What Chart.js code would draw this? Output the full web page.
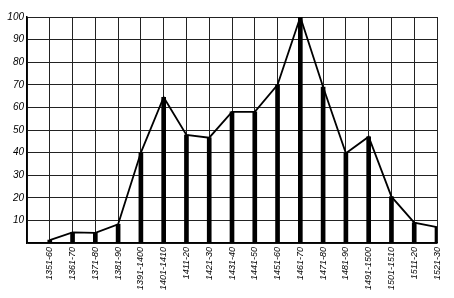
<!DOCTYPE html>
<html>
<head>
<meta charset="utf-8">
<script src="https://cdn.jsdelivr.net/npm/chart.js@4"></script>
<style>
  body { margin: 0; background: #fff; }
</style>
</head>
<body>
<canvas id="chart" width="454" height="298"></canvas>
<script>
const periods = ['1351-60', '1361-70', '1371-80', '1381-90', '1391-1400', '1401-1410',
    '1411-20', '1421-30', '1431-40', '1441-50', '1451-60', '1461-70', '1471-80',
    '1481-90', '1491-1500', '1501-1510', '1511-20', '1521-30'];
const values = [1.3, 4.7, 4.5, 8.3, 40, 64.5, 47.8, 46.6, 58, 58, 70, 100, 69, 39.7, 47, 20.5, 9, 7];
const yTicks = [10, 20, 30, 40, 50, 60, 70, 80, 90, 100];

// blank first slot so the first period sits one grid step in from the axis
const labels = [''].concat(periods);
const series = [null].concat(values);

const ctx = document.getElementById('chart').getContext('2d');
new Chart(ctx, {
    data: {
        labels: labels,
        datasets: [{
            type: 'line',
            data: series,
            borderColor: '#000',
            borderWidth: 1.8,
            pointRadius: 0,
            tension: 0
        }, {
            type: 'bar',
            data: series,
            backgroundColor: '#000',
            barThickness: 4
        }]
    },
    options: {
        responsive: false,
        animation: false,
        layout: { padding: { top: 17, right: 17, left: 0, bottom: 0 } },
        plugins: { legend: { display: false }, tooltip: { enabled: false } },
        scales: {
            x: {
                offset: false,
                grid: { color: '#222', lineWidth: 1, drawTicks: false, offset: false },
                border: { color: '#000', width: 1.5 },
                ticks: {
                    color: '#000',
                    autoSkip: false,
                    minRotation: 90,
                    maxRotation: 90,
                    padding: 4,
                    font: { family: 'Liberation Sans', size: 9, style: 'italic' }
                },
                afterFit: function (scale) { scale.height = 55; }
            },
            y: {
                min: 0,
                max: 100,
                afterBuildTicks: function (scale) {
                    scale.ticks = [0].concat(yTicks).map(function (v) { return { value: v }; });
                },
                grid: { color: '#222', lineWidth: 1, drawTicks: false },
                border: { color: '#000', width: 1.5 },
                ticks: {
                    color: '#000',
                    padding: 3,
                    callback: function (v) { return v === 0 ? '' : v; },
                    font: { family: 'Liberation Sans', size: 10, style: 'italic' }
                },
                afterFit: function (scale) { scale.width = 27; }
            }
        }
    }
});
</script>
</body>
</html>
